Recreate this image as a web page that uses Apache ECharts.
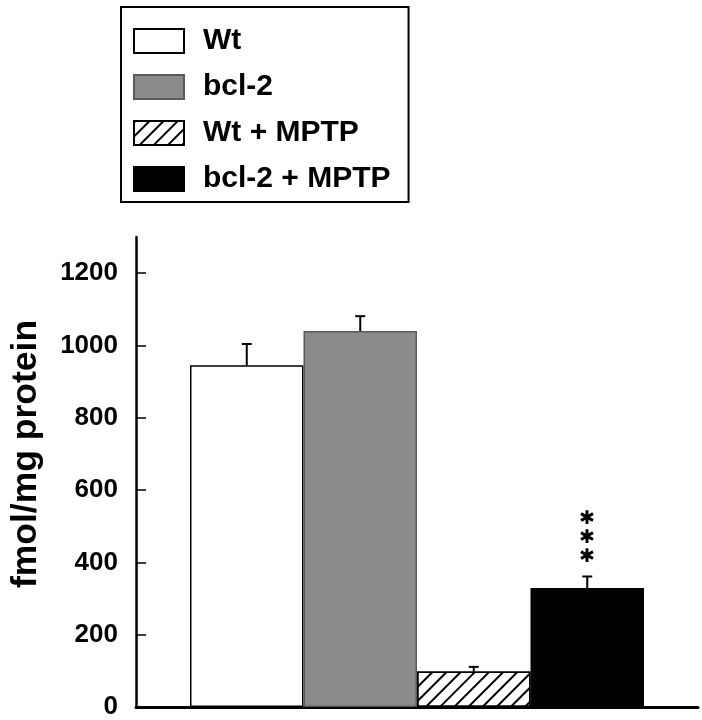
<!DOCTYPE html>
<html><head><meta charset="utf-8">
<script src="https://cdn.jsdelivr.net/npm/echarts@6/dist/echarts.min.js"></script>
<style>html,body{margin:0;padding:0;background:#fff}#c{width:702px;height:720px}</style>
</head><body><div id="c"></div>
<script>
const categories = ['Wt', 'bcl-2', 'Wt + MPTP', 'bcl-2 + MPTP'];
const means = [945, 1040, 98, 329];
const errors = [59, 41, 13, 32];
const yTicks = [0, 200, 400, 600, 800, 1000, 1200];
const significance = ['', '', '', '\u2731\n\u2731\n\u2731'];

const BAR_W = 113.5;
const FONT = '"Liberation Sans", Arial, Helvetica, sans-serif';

const fills = ['#ffffff', '#8b8b8b', '#ffffff', '#000000'];
const borders = ['#000000', '#5a5a5a', '#000000', '#000000'];

const chart = echarts.init(document.getElementById('c'), null, {renderer: 'canvas'});

const barSeries = categories.map((name, i) => ({
  name: name,
  type: 'bar',
  barWidth: BAR_W,
  barGap: '0%',
  data: [{
    value: means[i],
    label: significance[i] ? {
      show: true, position: 'top', distance: 21,
      formatter: significance[i], fontSize: 19,
      lineHeight: 19, color: '#000', fontFamily: '"DejaVu Sans", sans-serif'
    } : {show: false}
  }],
  itemStyle: Object.assign({
    color: fills[i], borderColor: borders[i], borderWidth: 1.5
  }, i === 2 ? {
    decal: {symbol: 'rect', symbolSize: 1, color: '#000', dashArrayX: [1, 0], dashArrayY: [1.3, 7.2], rotation: -Math.PI / 4}
  } : {}),
  emphasis: {disabled: true},
  silent: true
}));

const errSeries = {
  type: 'custom',
  silent: true,
  data: means.map((m, i) => [0, m, m + errors[i], i]),
  renderItem: function (params, api) {
    const idx = api.value(3);
    const base = api.coord([api.value(0), api.value(1)]);
    const top = api.coord([api.value(0), api.value(2)]);
    const x = base[0] + (idx - 1.5) * BAR_W;
    const cap = 5;
    const st = {stroke: '#000', lineWidth: 2};
    return {
      type: 'group',
      children: [
        {type: 'line', shape: {x1: x, y1: base[1], x2: x, y2: top[1]}, style: st},
        {type: 'line', shape: {x1: x - cap, y1: top[1], x2: x + cap, y2: top[1]}, style: st}
      ]
    };
  },
  z: 3
};

chart.setOption({
  animation: false,
  backgroundColor: '#fff',
  grid: {left: 130, right: 4, top: 237, bottom: 12},
  legend: {
    data: categories,
    orient: 'vertical',
    left: 121, top: 7,
    itemWidth: 50, itemHeight: 24, itemGap: 16,
    icon: 'rect',
    borderColor: '#000', borderWidth: 2,
    padding: [19, 18, 8, 12],
    selectedMode: false,
    textStyle: {fontSize: 30, fontWeight: 'bold', color: '#000', fontFamily: FONT, lineHeight: 30, padding: [0, 0, 0, 14]}
  },
  xAxis: {
    type: 'category', data: [''],
    axisLine: {lineStyle: {color: '#000', width: 3}},
    axisTick: {show: false}, axisLabel: {show: false}, splitLine: {show: false}
  },
  yAxis: {
    type: 'value', min: 0, max: 1300, interval: 200,
    name: 'fmol/mg protein', nameLocation: 'middle', nameGap: 92,
    nameTextStyle: {fontSize: 35.5, fontWeight: 'bold', color: '#000', fontFamily: FONT, padding: [0, 0, 0, 36]},
    axisLine: {show: true, lineStyle: {color: '#000', width: 2.5}},
    axisTick: {show: true, inside: true, length: 10, lineStyle: {color: '#000', width: 1.5}, customValues: yTicks},
    axisLabel: {fontSize: 26, fontWeight: 'bold', color: '#000', fontFamily: FONT, margin: 18, customValues: yTicks,
      formatter: function (v) { return String(v); }},
    splitLine: {show: false}
  },
  series: barSeries.concat([errSeries])
});
</script></body></html>
